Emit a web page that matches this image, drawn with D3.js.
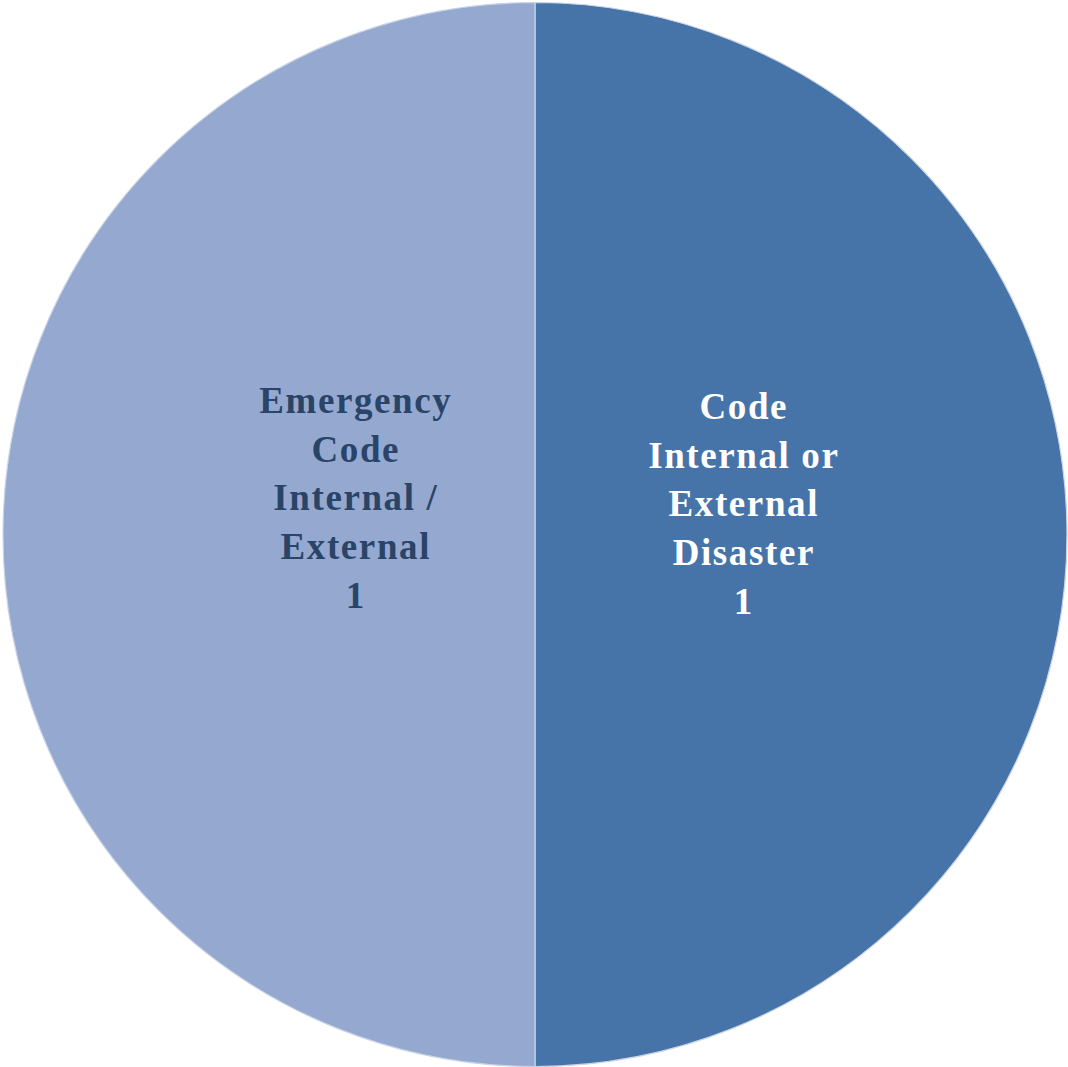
<!DOCTYPE html>
<html><head><meta charset="utf-8">
<script src="https://cdn.jsdelivr.net/npm/d3@7"></script>
<style>html,body{margin:0;padding:0;background:#fff;}</style>
</head><body>
<svg id="chart" width="1068" height="1067"></svg>
<script>
const categories = ["Code Internal or External Disaster", "Emergency Code Internal / External"];
const labelLines = [["Code", "Internal or", "External", "Disaster"], ["Emergency", "Code", "Internal /", "External"]];
const values = [1, 1];
const colors = ["#4674A8", "#95A9D0"];
const textColors = ["#FFFFFF", "#2A4467"];

const svg = d3.select("#chart");
const cx = 535, cy = 534.5, r = 532;
const g = svg.append("g").attr("transform", `translate(${cx},${cy})`);

const pie = d3.pie().sort(null).value(d => d);
const arcs = pie(values);
const arc = d3.arc().innerRadius(0).outerRadius(r);

g.selectAll("path").data(arcs).join("path")
  .attr("d", arc)
  .attr("fill", (d, i) => colors[i])
  .attr("stroke", "#c9d3e6")
  .attr("stroke-width", 1.2);

const labelRadius = [208, 180];
const labelShift = [-31, -37];
const lineH = 48.8;
arcs.forEach((d, i) => {
  const la = d3.arc().innerRadius(labelRadius[i]).outerRadius(labelRadius[i]);
  const [x, y] = la.centroid(d);
  const lines = labelLines[i].concat([String(values[i])]);
  const t = g.append("text")
    .attr("text-anchor", "middle")
    .attr("font-family", "'Liberation Serif', 'DejaVu Serif', serif")
    .attr("font-weight", "bold")
    .attr("font-size", 37)
    .attr("letter-spacing", 1.6)
    .attr("fill", textColors[i]);
  const y0 = y + labelShift[i] - (lines.length - 1) / 2 * lineH;
  lines.forEach((s, k) => {
    t.append("tspan").attr("x", x + 0.8).attr("y", y0 + k * lineH).attr("dy", "0.35em").text(s);
  });
});
</script>
</body></html>
